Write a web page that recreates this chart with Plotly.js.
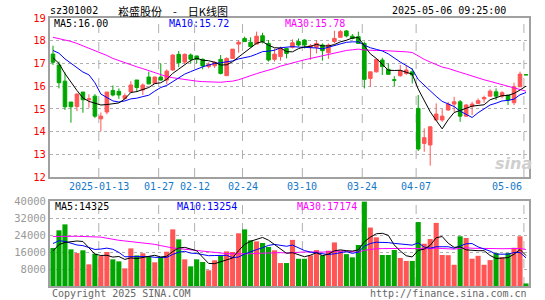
<!DOCTYPE html>
<html><head><meta charset="utf-8">
<script src="https://cdn.plot.ly/plotly-3.0.1.min.js"></script>
<style>html,body{margin:0;padding:0;background:#fff}#chart{width:545px;height:300px}</style>
</head><body><div id="chart"></div>
<script>
const dates = ['2024-12-31','2025-01-02','2025-01-03','2025-01-06','2025-01-07','2025-01-08','2025-01-09','2025-01-10','2025-01-13','2025-01-14','2025-01-15','2025-01-16','2025-01-17','2025-01-20','2025-01-21','2025-01-22','2025-01-23','2025-01-24','2025-01-27','2025-02-05','2025-02-06','2025-02-07','2025-02-10','2025-02-11','2025-02-12','2025-02-13','2025-02-14','2025-02-17','2025-02-18','2025-02-19','2025-02-20','2025-02-21','2025-02-24','2025-02-25','2025-02-26','2025-02-27','2025-02-28','2025-03-03','2025-03-04','2025-03-05','2025-03-06','2025-03-07','2025-03-10','2025-03-11','2025-03-12','2025-03-13','2025-03-14','2025-03-17','2025-03-18','2025-03-19','2025-03-20','2025-03-21','2025-03-24','2025-03-25','2025-03-26','2025-03-27','2025-03-28','2025-03-31','2025-04-01','2025-04-02','2025-04-03','2025-04-07','2025-04-08','2025-04-09','2025-04-10','2025-04-11','2025-04-14','2025-04-15','2025-04-16','2025-04-17','2025-04-18','2025-04-21','2025-04-22','2025-04-23','2025-04-24','2025-04-25','2025-04-28','2025-04-29','2025-04-30','2025-05-06'];

const openP = [17.41,16.93,16.22,15.30,15.10,15.74,15.40,15.56,14.56,14.86,
15.81,15.77,15.46,15.74,16.27,15.83,16.40,16.12,16.40,16.27,
16.71,17.40,17.06,17.37,17.33,17.18,16.86,16.90,17.18,16.46,
17.22,17.85,18.10,17.93,17.85,18.22,17.88,17.18,17.30,17.66,
17.71,17.96,18.03,17.70,17.71,17.81,17.47,17.96,18.15,18.43,
18.20,18.18,17.88,16.34,16.63,17.15,16.74,16.28,16.46,16.56,
16.63,15.02,13.48,13.41,14.51,14.51,14.95,15.21,15.31,14.68,
15.12,15.24,15.44,15.56,15.75,15.56,15.61,15.27,15.97,16.50];
const highP = [17.78,17.08,16.60,15.30,15.68,15.74,15.64,15.65,14.84,15.74,
16.03,15.90,15.68,16.22,16.27,16.12,16.64,16.42,17.00,16.74,
17.40,17.55,17.44,17.44,17.33,17.22,17.05,17.08,17.37,17.27,
17.63,18.03,18.18,18.15,18.40,18.35,18.03,17.66,17.74,17.68,
18.06,18.10,18.06,17.85,18.03,17.88,17.88,18.44,18.47,18.47,
18.29,18.40,17.96,16.63,17.22,17.25,17.00,16.44,16.93,16.93,
16.78,15.61,14.14,14.24,15.24,14.99,15.31,15.53,15.39,15.21,
15.31,15.46,15.58,15.86,15.90,15.78,15.61,16.15,16.64,16.50];
const lowP = [16.93,15.90,14.95,14.39,14.90,14.83,15.05,14.60,14.02,14.76,
15.55,15.44,15.40,15.72,15.74,15.61,16.08,16.10,16.24,16.08,
16.68,16.83,16.97,17.00,17.00,16.74,16.78,16.80,16.52,16.46,
17.20,17.47,17.95,17.71,17.85,17.88,17.08,17.08,17.12,17.22,
17.66,17.74,17.66,17.16,17.44,17.12,17.20,17.88,18.15,18.15,
18.06,17.88,15.90,15.97,16.60,16.49,16.49,16.00,16.42,16.49,
16.12,13.15,13.11,12.50,14.48,14.43,14.92,14.87,14.43,14.65,
14.73,15.21,15.27,15.53,15.39,15.46,15.17,15.17,15.97,16.50];
const closeP = [17.05,16.15,15.09,15.09,15.65,15.40,15.44,14.68,14.68,15.74,
15.61,15.61,15.58,16.05,15.94,16.05,16.10,16.40,16.27,16.66,
17.37,17.03,17.40,17.18,17.18,16.89,16.96,17.05,16.56,17.22,
17.63,17.93,17.96,17.74,18.20,17.96,17.15,17.41,17.66,17.44,
17.91,17.81,17.81,17.78,17.88,17.56,17.81,18.10,18.40,18.21,
18.10,17.88,16.30,16.63,17.18,16.86,16.52,16.26,16.68,16.71,
16.49,13.23,13.73,14.21,14.77,14.68,15.21,15.31,14.68,15.17,
15.21,15.36,15.50,15.78,15.56,15.71,15.39,15.97,16.53,16.50];

const ma5 = [17.25,17.00,16.55,16.15,15.81,15.48,15.33,15.25,15.17,15.19,
15.23,15.26,15.44,15.72,15.76,15.85,15.94,16.11,16.15,16.30,
16.56,16.75,16.95,17.13,17.23,17.14,17.12,17.05,16.93,16.94,
17.08,17.28,17.46,17.70,17.89,17.96,17.80,17.69,17.68,17.52,
17.51,17.65,17.73,17.75,17.84,17.77,17.77,17.83,17.95,18.02,
18.12,18.14,17.78,17.42,17.22,16.97,16.70,16.69,16.70,16.61,
16.53,15.87,15.37,14.87,14.49,14.12,14.52,14.84,14.93,15.01,
15.12,15.15,15.18,15.40,15.48,15.58,15.59,15.68,15.83,16.00];
const ma10 = [17.57,17.45,17.20,17.00,16.80,16.62,16.50,16.15,15.65,15.50,
15.35,15.30,15.35,15.44,15.47,15.54,15.60,15.78,15.94,16.03,
16.20,16.35,16.53,16.64,16.76,16.85,16.93,17.00,17.03,17.08,
17.11,17.20,17.26,17.31,17.41,17.52,17.54,17.58,17.69,17.71,
17.74,17.72,17.71,17.71,17.68,17.64,17.71,17.78,17.85,17.93,
17.95,17.95,17.80,17.69,17.62,17.55,17.42,17.23,17.06,16.91,
16.75,16.29,16.03,15.79,15.55,15.33,15.20,15.10,14.90,14.75,
14.62,14.83,15.01,15.17,15.25,15.35,15.37,15.43,15.62,15.72];
const ma30 = [18.15,18.10,18.04,17.97,17.88,17.78,17.68,17.55,17.45,17.35,
17.22,17.12,17.03,16.94,16.85,16.77,16.68,16.60,16.50,16.42,
16.37,16.33,16.28,16.25,16.22,16.20,16.18,16.17,16.17,16.20,
16.22,16.28,16.38,16.46,16.55,16.63,16.69,16.78,16.88,16.94,
17.01,17.09,17.16,17.22,17.29,17.34,17.39,17.45,17.52,17.57,
17.60,17.63,17.59,17.57,17.57,17.57,17.56,17.53,17.53,17.51,
17.48,17.32,17.18,17.06,16.95,16.84,16.78,16.71,16.61,16.53,
16.44,16.36,16.28,16.21,16.14,16.08,16.00,15.93,15.86,15.78];

const volume = [17900,26200,29000,17250,15500,16800,10200,15200,14100,16000,
12550,11600,8300,17700,14400,15400,13650,11150,13650,16150,
26650,21950,12550,9250,12550,11300,7400,12100,14100,16300,
16000,24800,26650,21500,21000,20250,18350,16800,10800,10800,
21700,12800,12800,14400,16900,14400,16600,20500,16600,15000,
13500,19300,39700,27500,22900,14600,14600,16950,13200,11800,
11800,30100,19900,22100,29700,14600,14500,10000,23400,22600,
12850,14200,10000,12200,15500,13500,15500,18000,23400,1200];
const volMa5 = [16500,19500,20500,21000,21170,20950,17750,14990,14360,14460,
13610,13890,12510,13230,12910,13480,13890,14460,13650,14000,
16250,17910,18190,17310,16590,13520,10610,10520,11490,12240,
13180,16660,19570,21050,21990,22840,21550,19580,17440,15400,
15690,14580,13780,14500,15720,14260,15020,16560,17000,16620,
16440,16980,20820,23000,24580,24800,23860,19310,16450,14230,
13670,16770,17360,19140,22720,23280,20160,18180,18440,17020,
16670,16610,16610,14370,12950,13080,13340,14940,17180,14325];
const volMa10 = [20000,21300,21000,20000,19300,19000,18000,17200,17400,17815,
17280,15820,13750,13795,13685,13545,13890,13485,13440,13455,
14865,15900,16325,15480,15295,14885,14260,14355,14400,14415,
13350,13635,15045,16270,17115,18010,19105,19575,19245,18695,
19265,18065,16680,15970,15560,14975,14800,15170,15750,16170,
15350,16000,18690,20000,20600,20620,20420,20065,19725,19405,
19235,20315,18335,17795,18475,18475,18465,17770,18790,19870,
19975,18385,17395,16405,14985,14875,14975,15775,15775,13254];
const volMa30 = [23300,23400,23400,23400,23400,23300,23200,23100,23000,22500,
21900,21500,21200,20900,20600,20300,20000,19600,19000,18300,
17900,17600,17300,17000,16700,16400,16000,15800,15500,15230,
15165,15118,15040,15182,15365,15480,15752,15805,15695,15522,
15827,15867,16017,15907,15990,15957,16055,16367,16465,16427,
15989,15901,16806,17300,17550,17600,17700,17800,17800,17700,
17600,17750,17550,17550,17800,17650,17550,17350,17700,18000,
17750,17800,17700,17650,17600,17550,17500,17450,17650,17174];

const tickDates = ['2025-01-13','2025-01-27','2025-02-12','2025-02-24','2025-03-10','2025-03-24','2025-04-07','2025-05-06'];
const tickText = ['2025-01-13','01-27','02-12','02-24','03-10','03-24','04-07','05-06'];
const priceTicks = [12,13,14,15,16,17,18,19];
const volTicks = [8000,16000,24000,32000,40000];
const volTickText = ['8000','16000','24000','32000','40000'];

const code = 'sz301002';
const titleText = '崧盛股份\u3000-\u3000日K线图';
const stamp = '2025-05-06 09:25:00';

const RED = '#ff5555', GREEN = '#00a600';
const MONO = 'DejaVu Sans Mono, monospace';
const TICKBLUE = '#1478c8';
const GRID = '#b0b0b0';

// direction of each bar (for volume colors)
const volColors = closeP.map((c, i) => {
  const o = openP[i];
  let up;
  if (c !== o) up = c > o; else up = i > 0 ? c > closeP[i - 1] : true;
  return up ? RED : GREEN;
});

const W = 545, H = 300;
const M = {l: 50, r: 16, t: 18, b: 14};
const px = x => (x - M.l) / (W - M.l - M.r);
const py = y => (H - M.b - y) / (H - M.t - M.b);
const last = a => a[a.length - 1];

// date grid lines sit a third of a bar left of the bar centre
const GRID_SHIFT = -0.35;
const tickIdx = tickDates.map(d => dates.indexOf(d) + GRID_SHIFT);

const traces = [
  {type: 'candlestick', x: dates, open: openP, high: highP, low: lowP, close: closeP,
   xaxis: 'x', yaxis: 'y', whiskerwidth: 0,
   increasing: {line: {color: RED, width: 1}, fillcolor: RED},
   decreasing: {line: {color: GREEN, width: 1}, fillcolor: GREEN},
   hoverinfo: 'skip', showlegend: false},
  {type: 'scatter', mode: 'lines', x: dates, y: ma30, xaxis: 'x', yaxis: 'y', line: {color: '#ff00ff', width: 1}, showlegend: false},
  {type: 'scatter', mode: 'lines', x: dates, y: ma10, xaxis: 'x', yaxis: 'y', line: {color: '#0000ff', width: 1}, showlegend: false},
  {type: 'scatter', mode: 'lines', x: dates, y: ma5, xaxis: 'x', yaxis: 'y', line: {color: '#000000', width: 1}, showlegend: false},
  {type: 'bar', x: dates, y: volume, xaxis: 'x2', yaxis: 'y2', marker: {color: volColors, line: {width: 0}}, showlegend: false},
  {type: 'scatter', mode: 'lines', x: dates, y: volMa30, xaxis: 'x2', yaxis: 'y2', line: {color: '#ff00ff', width: 1}, showlegend: false},
  {type: 'scatter', mode: 'lines', x: dates, y: volMa10, xaxis: 'x2', yaxis: 'y2', line: {color: '#0000ff', width: 1}, showlegend: false},
  {type: 'scatter', mode: 'lines', x: dates, y: volMa5, xaxis: 'x2', yaxis: 'y2', line: {color: '#000000', width: 1}, showlegend: false}
];

const frame = {showline: true, mirror: true, linecolor: '#a0a0a0', linewidth: 2, zeroline: false};
const xbase = Object.assign({}, frame, {
  type: 'category', categoryorder: 'array', categoryarray: dates,
  showgrid: false, showticklabels: false, ticks: '',
  rangeslider: {visible: false}, fixedrange: true
});

const ann = (x, y, text, color, anchor, size, family) => ({
  xref: 'paper', yref: 'paper', x: px(x), y: py(y), text: text, showarrow: false,
  xanchor: anchor, yanchor: 'middle', font: {family: family || MONO, size: size || 10, color: color}
});

const shapes = [];
tickIdx.forEach(v => {
  ['y', 'y2'].forEach(ya => shapes.push({
    type: 'line', layer: 'below', xref: ya === 'y' ? 'x' : 'x2', yref: ya + ' domain',
    x0: v, x1: v, y0: 0, y1: 1, line: {color: GRID, width: 1, dash: 'dash'}
  }));
});

const dateLabels = tickText.map((t, i) => {
  const isLast = i === tickText.length - 1;
  return {xref: isLast ? 'paper' : 'x', yref: 'paper',
    x: isLast ? px(524) : tickIdx[i], y: py(186), text: t, showarrow: false,
    xanchor: isLast ? 'right' : 'center', yanchor: 'middle',
    font: {family: MONO, size: 10, color: TICKBLUE}};
});

const layout = {
  width: W, height: H, margin: M, paper_bgcolor: '#fff', plot_bgcolor: '#fff',
  showlegend: false, boxgap: 0.15, bargap: 0.15,
  xaxis: Object.assign({}, xbase, {anchor: 'y'}),
  xaxis2: Object.assign({}, xbase, {anchor: 'y2', matches: 'x'}),
  yaxis: Object.assign({}, frame, {domain: [py(177), 1], range: [12, 19], tickmode: 'array', tickvals: priceTicks,
    ticks: '', showgrid: true, gridcolor: GRID, griddash: 'dot', gridwidth: 1,
    tickfont: {family: MONO, size: 10.5, color: '#ff0000'}, fixedrange: true}),
  yaxis2: Object.assign({}, frame, {domain: [0, py(201)], range: [0, 40000], tickmode: 'array', tickvals: volTicks, ticktext: volTickText,
    ticks: '', showgrid: true, gridcolor: GRID, griddash: 'dot', gridwidth: 1,
    tickfont: {family: MONO, size: 10.5, color: '#999999'}, fixedrange: true}),
  shapes: shapes,
  annotations: [
    ann(48, 11, code, '#000', 'left', 10),
    ann(116, 11, titleText, '#000', 'left', 11, 'Noto Sans CJK SC, sans-serif'),
    ann(508, 11, stamp, '#000', 'right', 10),
    ann(52, 24, 'MA5:' + last(ma5).toFixed(2), '#000', 'left', 10),
    ann(167, 24, 'MA10:' + last(ma10).toFixed(2), '#0000ff', 'left', 10),
    ann(283, 24, 'MA30:' + last(ma30).toFixed(2), '#ff00ff', 'left', 10),
    ann(53, 206, 'MA5:' + last(volMa5), '#000', 'left', 10),
    ann(175, 206, 'MA10:' + last(volMa10), '#0000ff', 'left', 10),
    ann(295, 206, 'MA30:' + last(volMa30), '#ff00ff', 'left', 10),
    ann(50, 293, 'Copyright 2025 SINA.COM', '#666666', 'left', 10),
    ann(529, 293, 'http://finance.sina.com.cn', '#666666', 'right', 10),
    {xref: 'paper', yref: 'paper', x: px(513), y: py(163), text: '<b><i>sina</i></b>', showarrow: false,
     xanchor: 'center', yanchor: 'middle', font: {family: 'DejaVu Sans, sans-serif', size: 16, color: '#cfcfcf'}}
  ].concat(dateLabels)
};

Plotly.newPlot('chart', traces, layout, {staticPlot: true, displayModeBar: false});
</script>
</body></html>
